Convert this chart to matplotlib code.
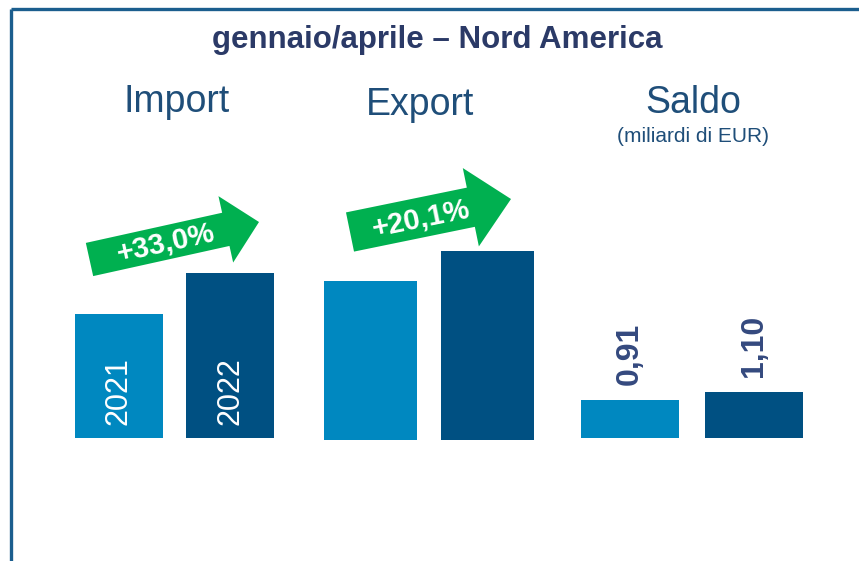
import matplotlib
matplotlib.use("Agg")
import matplotlib.pyplot as plt
from matplotlib.patches import FancyArrow

plt.rcParams['font.family'] = ['Liberation Sans', 'DejaVu Sans']

# ---- data ----
title = "gennaio/aprile – Nord America"
groups = ["Import", "Export", "Saldo"]
years = ["2021", "2022"]
import_vals = [1.24, 1.65]      # relative bar heights
export_vals = [1.59, 1.89]      # relative bar heights
saldo_vals = [0.91, 1.10]       # miliardi di EUR
saldo_labels = ["0,91", "1,10"]
growth_labels = ["+33,0%", "+20,1%"]
saldo_unit = "(miliardi di EUR)"

# ---- style ----
C_LIGHT = "#0088C0"
C_DARK = "#005082"
C_TITLE = "#2B3A67"
C_LABEL = "#1F4E79"
C_VALUE = "#34497E"
C_GREEN = "#00B050"
C_BORDER = "#1B5E8E"

W, H = 859, 561
fig = plt.figure(figsize=(W / 100, H / 100), dpi=100)
fig.patch.set_facecolor("white")


def px_axes(left, right, base, top):
    """axes from pixel box (y measured from top)"""
    return fig.add_axes([left / W, (H - base) / H, (right - left) / W, (base - top) / H])


bw = 0.79
# group axes: (left px, right px, baseline px, px per unit)
specs = [
    (import_vals, 75, 274, 438, 100.0),
    (export_vals, 324, 534, 440, 100.0),
    (saldo_vals, 581, 803, 438, 42.0),
]
axes = []
for vals, l, r, base, scale in specs:
    ax = px_axes(l, r, base, base - 220)
    ax.set_xlim(-bw / 2, 1 + bw / 2)
    ax.set_ylim(0, 220 / scale)
    ax.bar([0, 1], vals, width=bw, color=[C_LIGHT, C_DARK], zorder=2)
    ax.axis("off")
    axes.append(ax)

# year labels inside import bars
for i, y in enumerate(years):
    axes[0].annotate(y, (i, 0), xytext=(0, 9.5), textcoords="offset points",
                     rotation=90, ha="center", va="bottom", color="white",
                     fontsize=22)

# saldo value labels
for i, (v, lab) in enumerate(zip(saldo_vals, saldo_labels)):
    axes[2].annotate(lab, (i, v), xytext=(0, 11), textcoords="offset points",
                     rotation=90, ha="center", va="bottom", color=C_VALUE,
                     fontsize=23, fontweight="bold")

# overlay in pixel coordinates
ov = fig.add_axes([0, 0, 1, 1], zorder=5)
ov.set_xlim(0, W)
ov.set_ylim(H, 0)
ov.axis("off")
ov.patch.set_alpha(0)

# frame lines
ov.plot([10.5, W], [9, 9], color=C_BORDER, lw=2.4, solid_capstyle="butt")
ov.plot([10.5, 10.5], [9, H], color=C_BORDER, lw=2.4, solid_capstyle="butt")

# title and group labels
ov.text(437, 48, title, ha="center", va="baseline", fontsize=22.5,
        fontweight="bold", color=C_TITLE)
ov.text(177, 112, groups[0], ha="center", va="baseline", fontsize=27, color=C_LABEL)
ov.text(420, 115, groups[1], ha="center", va="baseline", fontsize=27, color=C_LABEL)
ov.text(693, 113, groups[2], ha="center", va="baseline", fontsize=27, color=C_LABEL)
ov.text(693, 142, saldo_unit, ha="center", va="baseline", fontsize=15, color=C_LABEL)

# growth arrows
arrows = [
    # start x, start y, tip x, tip y, body width, head width, head length, text pos, angle
    (89.5, 259.5, 259, 222, 34, 68, 34, (166, 243), 12.5),
    (350, 232, 511, 199, 40, 80, 41, (421, 219), 11.6),
]
for (x0, y0, x1, y1, w, hw, hl, tp, ang), lab in zip(arrows, growth_labels):
    ov.add_patch(FancyArrow(x0, y0, x1 - x0, y1 - y0, width=w, head_width=hw,
                            head_length=hl, length_includes_head=True,
                            color=C_GREEN, lw=0))
    ov.text(tp[0], tp[1], lab, ha="center", va="center", rotation=ang,
            rotation_mode="anchor", color="white", fontsize=21, fontweight="bold")

fig.savefig("out.png", dpi=100)
